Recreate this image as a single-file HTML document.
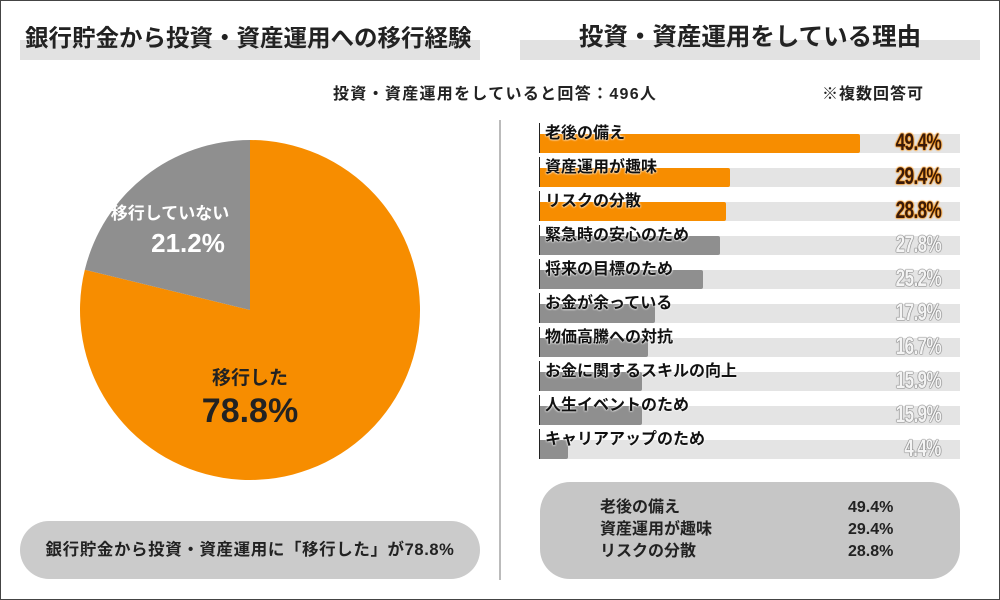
<!DOCTYPE html>
<html><head><meta charset="utf-8"><style>
body{margin:0;width:1000px;height:600px;background:#fff;overflow:hidden;font-family:"Liberation Sans","Noto Sans CJK JP",sans-serif}
#frame{position:absolute;left:0;top:0;width:998px;height:598px;border:1px solid #444}
.t{position:absolute;white-space:nowrap}
</style></head><body>
<div id="frame"></div>
<div class="t" style="left:20px;top:40px;width:460px;height:20px;background:#e2e2e2"></div>
<div class="t" style="left:25px;top:19px;font-size:23.5px;font-weight:bold;color:#222">銀行貯金から投資・資産運用への移行経験</div>
<div class="t" style="left:520px;top:40px;width:460px;height:20px;background:#e2e2e2"></div>
<div class="t" style="left:520px;width:460px;text-align:center;top:18px;font-size:24.5px;font-weight:bold;color:#222">投資・資産運用をしている理由</div>
<div class="t" style="left:333px;top:80px;font-size:16px;letter-spacing:1.3px;font-weight:bold;color:#222">投資・資産運用をしていると回答：496人</div>
<div class="t" style="left:822px;top:80px;font-size:16px;letter-spacing:1px;font-weight:bold;color:#222">※複数回答可</div>
<div class="t" style="left:499px;top:120px;width:2px;height:460px;background:#bbb"></div>
<svg id="pie" width="1000" height="600" style="position:absolute;left:0;top:0"></svg>
<div class="t" style="left:20px;top:521px;width:460px;height:58px;border-radius:29px;background:#cbcbcb;font-size:16.5px;letter-spacing:0.6px;font-weight:bold;line-height:58px;text-align:center;color:#222">銀行貯金から投資・資産運用に「移行した」が78.8%</div>
<div id="bars"></div>
<div class="t" style="left:540px;top:482px;width:420px;height:97px;border-radius:30px;background:#c6c6c6"></div>
<div class="t" style="left:600px;top:497px;font-size:16px;font-weight:bold;line-height:22px;color:#222">老後の備え<br>資産運用が趣味<br>リスクの分散</div>
<div class="t" style="left:848px;top:497px;font-size:16px;font-weight:bold;line-height:22px;color:#222">49.4%<br>29.4%<br>28.8%</div>
<script>
const pieLabels=["移行した","移行していない"];
const pieValues=[78.8,21.2];
const categories=["老後の備え","資産運用が趣味","リスクの分散","緊急時の安心のため","将来の目標のため","お金が余っている","物価高騰への対抗","お金に関するスキルの向上","人生イベントのため","キャリアアップのため"];
const values=[49.4,29.4,28.8,27.8,25.2,17.9,16.7,15.9,15.9,4.4];

const NS="http://www.w3.org/2000/svg";
const svg=document.getElementById('pie');
const cx=250,cy=310,r=170;
const colors=["#f78d00","#8f8f8f"];
const tot=pieValues.reduce((a,b)=>a+b,0);
let a0=0;
function pt(f){const a=f*2*Math.PI-Math.PI/2;return [cx+r*Math.cos(a),cy+r*Math.sin(a)];}
pieValues.forEach((v,i)=>{
  const f0=a0/tot,f1=(a0+v)/tot;a0+=v;
  const p0=pt(f0),p1=pt(f1);
  const p=document.createElementNS(NS,'path');
  p.setAttribute('d',`M${cx},${cy}L${p0[0]},${p0[1]}A${r},${r} 0 ${f1-f0>0.5?1:0} 1 ${p1[0]},${p1[1]}Z`);
  p.setAttribute('fill',colors[i]);
  
  
  svg.appendChild(p);
});
function txt(x,y,s,size,fill,name,anchor,extra){
  const t=document.createElementNS(NS,'text');
  t.setAttribute('x',x);t.setAttribute('y',y);t.setAttribute('font-size',size);
  t.setAttribute('font-weight','bold');t.setAttribute('fill',fill);
  t.setAttribute('text-anchor',anchor||'middle');
  t.setAttribute('font-family','"Liberation Sans","Noto Sans CJK JP",sans-serif');
  if(extra)t.setAttribute('style',extra);
  t.textContent=s;
  
  
  svg.appendChild(t);
}
txt(250,384,pieLabels[0],19,"#222","pie-label-migrated");
txt(250,422,pieValues[0].toFixed(1)+"%",34,"#222","pie-value-migrated");
txt(170,219,pieLabels[1],17,"#fff","pie-label-not-migrated");
txt(188,252,pieValues[1].toFixed(1)+"%",26,"#fff","pie-value-not-migrated");

const bars=document.getElementById('bars');
const x0=539,trackW=421,scale=6.5,top0=134,step=34,bh=19;
categories.forEach((c,i)=>{
  const y=top0+i*step;
  const hl=i<3;
  const tr=document.createElement('div');
  tr.className='t';
  
  
  tr.style.cssText=`left:${x0}px;top:${y}px;width:${trackW}px;height:${bh}px;background:#e4e4e4`;
  bars.appendChild(tr);
  const b=document.createElement('div');
  b.className='t';
  
  
  b.style.cssText=`left:${x0}px;top:${y}px;width:${values[i]*scale}px;height:${bh}px;background:${hl?'#f78d00':'#8f8f8f'};border-radius:0 2px 2px 0`;
  bars.appendChild(b);
  const tick=document.createElement('div');
  tick.className='t';
  
  
  tick.style.cssText=`left:${x0}px;top:${y-11}px;width:1px;height:${bh+11}px;background:#222`;
  bars.appendChild(tick);
  const l=document.createElement('div');
  l.className='t';
  
  
  l.style.cssText=`left:545px;top:${y-15}px;font-size:16px;font-weight:bold;color:#111;text-shadow:0 0 2px #fff,0 0 2px #fff`;
  l.textContent=c;
  bars.appendChild(l);
  const v=document.createElement('div');
  v.className='t';
  
  
  v.style.cssText=`right:${1000-941}px;top:${y-5}px;font-size:24px;font-weight:bold;letter-spacing:-1px;transform:scaleX(0.72);transform-origin:right;`+
   (hl?'color:#3a1a0a;text-shadow:0 0 2px #f78d00,0 0 2px #f78d00,0 0 2px #f78d00':'color:#f4f4f4;text-shadow:0 0 1px #666,0 0 1px #666,0 0 1px #666,0 0 1px #666');
  v.textContent=values[i].toFixed(1)+'%';
  bars.appendChild(v);
});
</script>
</body></html>
